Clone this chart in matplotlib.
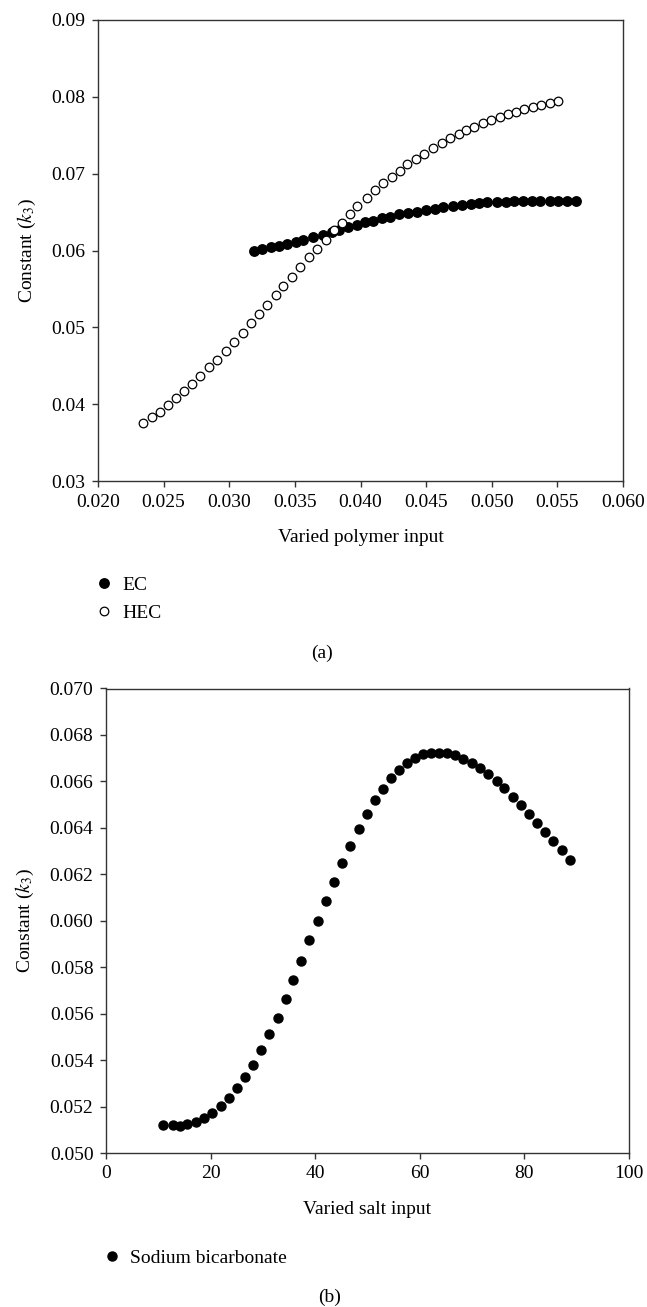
import matplotlib
matplotlib.use("Agg")
import matplotlib.pyplot as plt

plt.rcParams['font.family'] = ['Liberation Serif', 'DejaVu Serif']
plt.rcParams['mathtext.fontset'] = 'stix'

# ---- Panel (a) data ----
ec_x = [0.03191, 0.03252, 0.03316, 0.03380, 0.03443, 0.03509, 0.03565, 0.03641,
        0.03713, 0.03781, 0.03839, 0.03908, 0.03972, 0.04035, 0.04098, 0.04162,
        0.04226, 0.04297, 0.04365, 0.04429, 0.04500, 0.04569, 0.04632, 0.04704,
        0.04772, 0.04841, 0.04904, 0.04967, 0.05039, 0.05108, 0.05173, 0.05237,
        0.05306, 0.05369, 0.05440, 0.05508, 0.05572, 0.05643]
ec_y = [0.05995, 0.06017, 0.06043, 0.06064, 0.06090, 0.06112, 0.06138, 0.06170,
        0.06206, 0.06240, 0.06264, 0.06303, 0.06333, 0.06368, 0.06389, 0.06420,
        0.06441, 0.06472, 0.06485, 0.06506, 0.06528, 0.06545, 0.06564, 0.06581,
        0.06594, 0.06607, 0.06616, 0.06629, 0.06633, 0.06637, 0.06642, 0.06646,
        0.06646, 0.06646, 0.06646, 0.06646, 0.06646, 0.06646]

hec_x = [0.02340, 0.02409, 0.02473, 0.02536, 0.02595, 0.02655, 0.02719, 0.02777,
         0.02849, 0.02910, 0.02973, 0.03037, 0.03103, 0.03164, 0.03227, 0.03291,
         0.03354, 0.03413, 0.03479, 0.03542, 0.03606, 0.03672, 0.03735, 0.03801,
         0.03857, 0.03921, 0.03977, 0.04048, 0.04111, 0.04175, 0.04238, 0.04302,
         0.04358, 0.04424, 0.04485, 0.04551, 0.04620, 0.04684, 0.04747, 0.04806,
         0.04867, 0.04933, 0.04994, 0.05060, 0.05121, 0.05187, 0.05248, 0.05314,
         0.05375, 0.05441, 0.05504]
hec_y = [0.03751, 0.03838, 0.03903, 0.03990, 0.04076, 0.04176, 0.04263, 0.04367,
         0.04480, 0.04575, 0.04693, 0.04805, 0.04931, 0.05053, 0.05174, 0.05287,
         0.05422, 0.05539, 0.05660, 0.05782, 0.05912, 0.06021, 0.06138, 0.06268,
         0.06363, 0.06476, 0.06581, 0.06680, 0.06789, 0.06876, 0.06962, 0.07040,
         0.07123, 0.07192, 0.07258, 0.07331, 0.07396, 0.07462, 0.07518, 0.07570,
         0.07613, 0.07657, 0.07700, 0.07735, 0.07774, 0.07809, 0.07843, 0.07874,
         0.07900, 0.07926, 0.07952]

a_xticks = [0.020, 0.025, 0.030, 0.035, 0.040, 0.045, 0.050, 0.055, 0.060]
a_yticks = [0.03, 0.04, 0.05, 0.06, 0.07, 0.08, 0.09]

# ---- Panel (b) data ----
sb_x = [10.96, 12.75, 14.15, 15.55, 17.21, 18.74, 20.33, 21.93, 23.46, 24.99,
        26.58, 28.17, 29.64, 31.23, 32.83, 34.36, 35.82, 37.35, 38.88, 40.54,
        42.07, 43.59, 45.12, 46.65, 48.31, 49.84, 51.50, 53.03, 54.49, 56.02,
        57.49, 59.14, 60.67, 62.08, 63.73, 65.26, 66.79, 68.32, 69.98, 71.51,
        73.10, 74.70, 76.10, 77.76, 79.29, 80.88, 82.35, 83.94, 85.53, 87.13,
        88.72]
sb_y = [0.05120, 0.05120, 0.05117, 0.05123, 0.05135, 0.05152, 0.05173, 0.05202,
        0.05238, 0.05278, 0.05328, 0.05380, 0.05443, 0.05512, 0.05582, 0.05661,
        0.05744, 0.05827, 0.05915, 0.05999, 0.06084, 0.06167, 0.06247, 0.06323,
        0.06395, 0.06459, 0.06518, 0.06569, 0.06614, 0.06650, 0.06680, 0.06702,
        0.06716, 0.06722, 0.06724, 0.06722, 0.06715, 0.06698, 0.06679, 0.06657,
        0.06630, 0.06601, 0.06570, 0.06534, 0.06498, 0.06459, 0.06421, 0.06382,
        0.06342, 0.06303, 0.06262]

b_xticks = [0, 20, 40, 60, 80, 100]
b_yticks = [0.050, 0.052, 0.054, 0.056, 0.058, 0.060, 0.062, 0.064, 0.066, 0.068, 0.070]

W, H = 647, 1307
fig = plt.figure(figsize=(W / 100, H / 100), dpi=100)

def axes_px(l, t, r, b):
    return fig.add_axes([l / W, 1 - b / H, (r - l) / W, (b - t) / H])

FS = 14
spine_c = '#333333'

def style(ax):
    for s in ax.spines.values():
        s.set_color(spine_c)
        s.set_linewidth(1.0)
    ax.tick_params(direction='out', length=4, width=1.0, color=spine_c,
                   labelsize=FS, pad=5, top=False, right=False)

# Panel (a)
ax1 = axes_px(98, 20, 623, 481)
ax1.plot(ec_x, ec_y, 'o', color='black', markersize=6.8, label='EC')
ax1.plot(hec_x, hec_y, 'o', markerfacecolor='white', markeredgecolor='black',
         markeredgewidth=0.9, markersize=6.2, label='HEC')
ax1.set_xlim(0.020, 0.060)
ax1.set_ylim(0.03, 0.09)
ax1.set_xticks(a_xticks)
ax1.set_xticklabels([f'{v:.3f}' for v in a_xticks])
ax1.set_yticks(a_yticks)
ax1.set_yticklabels([f'{v:.2f}' for v in a_yticks])
ax1.set_xlabel('Varied polymer input', fontsize=FS, labelpad=13)
ax1.set_ylabel(r'Constant ($k_3$)', fontsize=FS, labelpad=10)
style(ax1)
leg1 = ax1.legend(loc='upper left', bbox_to_anchor=(96 / W, 1 - 576 / H),
                  bbox_transform=fig.transFigure, frameon=False, fontsize=FS,
                  borderpad=0, handlelength=0.8, handletextpad=0.55,
                  labelspacing=0.55, borderaxespad=0)
fig.text(322 / W, 1 - 653 / H, '(a)', ha='center', va='center', fontsize=FS)

# Panel (b)
ax2 = axes_px(106, 688.5, 629, 1153)
ax2.plot(sb_x, sb_y, 'o', color='black', markersize=6.5, label='Sodium bicarbonate')
ax2.set_xlim(0, 100)
ax2.set_ylim(0.050, 0.070)
ax2.set_xticks(b_xticks)
ax2.set_xticklabels([str(v) for v in b_xticks])
ax2.set_yticks(b_yticks)
ax2.set_yticklabels([f'{v:.3f}' for v in b_yticks])
ax2.set_xlabel('Varied salt input', fontsize=FS, labelpad=13)
ax2.set_ylabel(r'Constant ($k_3$)', fontsize=FS, labelpad=10)
style(ax2)
leg2 = ax2.legend(loc='upper left', bbox_to_anchor=(104 / W, 1 - 1249 / H),
                  bbox_transform=fig.transFigure, frameon=False, fontsize=FS,
                  borderpad=0, handlelength=0.8, handletextpad=0.55,
                  borderaxespad=0)
fig.text(330 / W, 1 - 1297 / H, '(b)', ha='center', va='center', fontsize=FS)

fig.savefig('out.png', dpi=100)
